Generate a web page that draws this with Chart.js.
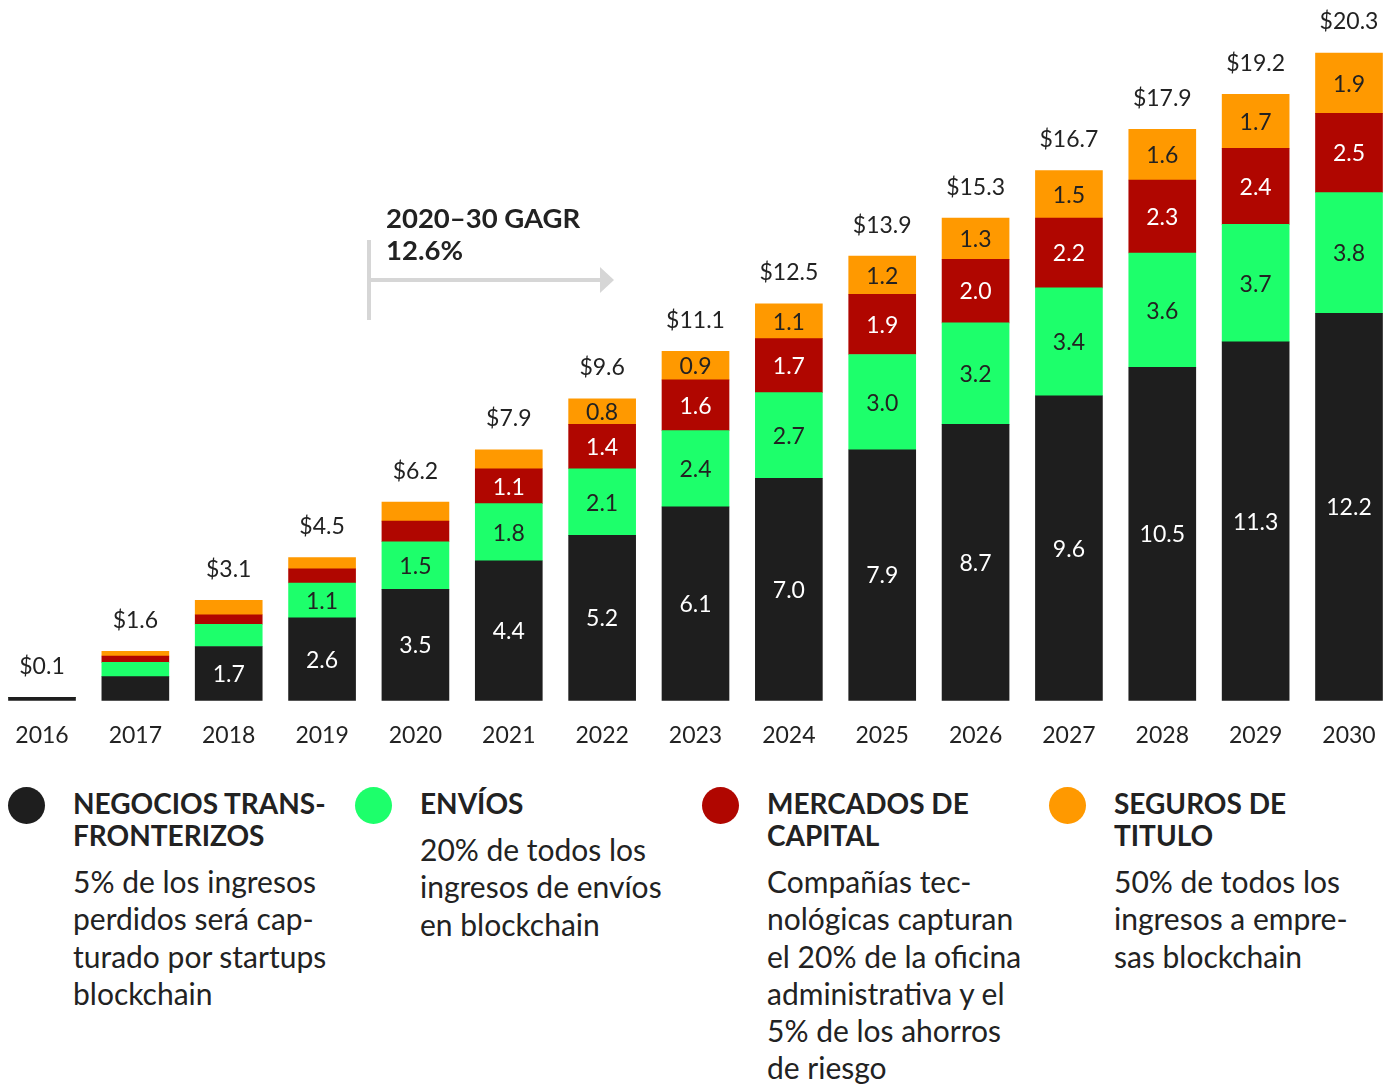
<!DOCTYPE html>
<html lang="es">
<head>
    <meta charset="UTF-8">
    <title>Blockchain ingresos 2016-2030</title>
    <script src="https://cdn.jsdelivr.net/npm/chart.js"></script>
    <style>
        body { margin: 0; background: #fff; font-family: Lato, sans-serif; color: #222; overflow: hidden; }
        #wrap { position: relative; width: 1388px; height: 1086px; }
        #chartBox { position: absolute; left: 0; top: 0; width: 1388px; height: 770px; }
        .legend-item { position: absolute; top: 787px; width: 300px; }
        .legend-item .dot { position: absolute; left: -65px; top: 0px; width: 37px; height: 37px; border-radius: 50%; }
        .legend-item h3 { margin: 0; font-size: 28px; line-height: 32px; font-weight: 700; text-transform: uppercase; }
        .legend-item p { margin: 12px 0 0; font-size: 30px; line-height: 37.3px; }
    </style>
</head>
<body>
<div id="wrap">
    <div id="chartBox"><canvas id="chart"></canvas></div>

    <div class="legend-item" style="left:73px">
        <span class="dot" style="background:#1e1e1e"></span>
        <h3>Negocios trans-<br>fronterizos</h3>
        <p>5% de los ingresos<br>perdidos será cap-<br>turado por startups<br>blockchain</p>
    </div>
    <div class="legend-item" style="left:420px">
        <span class="dot" style="background:#1dff6b"></span>
        <h3>Envíos</h3>
        <p>20% de todos los<br>ingresos de envíos<br>en blockchain</p>
    </div>
    <div class="legend-item" style="left:767px">
        <span class="dot" style="background:#b00600"></span>
        <h3>Mercados de<br>capital</h3>
        <p>Compañías tec-<br>nológicas capturan<br>el 20% de la oficina<br>administrativa y el<br>5% de los ahorros<br>de riesgo</p>
    </div>
    <div class="legend-item" style="left:1114px">
        <span class="dot" style="background:#ff9900"></span>
        <h3>Seguros de<br>titulo</h3>
        <p>50% de todos los<br>ingresos a empre-<br>sas blockchain</p>
    </div>
</div>

<script>
// data (billions USD)
const years = ['2016', '2017', '2018', '2019', '2020', '2021', '2022', '2023', '2024', '2025', '2026', '2027', '2028', '2029', '2030'];
const crossBorder = [0.1, 0.75, 1.7, 2.6, 3.5, 4.4, 5.2, 6.1, 7.0, 7.9, 8.7, 9.6, 10.5, 11.3, 12.2];
const remittances = [0, 0.45, 0.7, 1.1, 1.5, 1.8, 2.1, 2.4, 2.7, 3.0, 3.2, 3.4, 3.6, 3.7, 3.8];
const capitalMarkets = [0, 0.2, 0.3, 0.45, 0.65, 1.1, 1.4, 1.6, 1.7, 1.9, 2.0, 2.2, 2.3, 2.4, 2.5];
const titleInsurance = [0, 0.15, 0.45, 0.35, 0.6, 0.6, 0.8, 0.9, 1.1, 1.2, 1.3, 1.5, 1.6, 1.7, 1.9];
const totals = ['$0.1', '$1.6', '$3.1', '$4.5', '$6.2', '$7.9', '$9.6', '$11.1', '$12.5', '$13.9', '$15.3', '$16.7', '$17.9', '$19.2', '$20.3'];

const FONT = 'Lato, sans-serif';
const labelThreshold = 0.8;

// segment values + totals drawn on top of the bars
const barLabels = {
    id: 'barLabels',
    afterDatasetsDraw(chart) {
        const ctx = chart.ctx;
        ctx.save();
        ctx.textAlign = 'center';
        ctx.textBaseline = 'middle';
        ctx.font = '23px ' + FONT;
        chart.data.datasets.forEach((ds, i) => {
            const meta = chart.getDatasetMeta(i);
            meta.data.forEach((bar, j) => {
                const v = ds.data[j];
                if (v < labelThreshold) return;
                ctx.fillStyle = ds.labelColor;
                ctx.fillText(v.toFixed(1), bar.x, (bar.y + bar.base) / 2 + 1);
            });
        });
        // totals
        const last = chart.getDatasetMeta(chart.data.datasets.length - 1);
        let tops = chart.getDatasetMeta(0).data.map(b => b.y);
        chart.data.datasets.forEach((ds, i) => {
            chart.getDatasetMeta(i).data.forEach((b, j) => { if (ds.data[j] > 0) tops[j] = Math.min(tops[j], b.y); });
        });
        ctx.fillStyle = '#222';
        last.data.forEach((bar, j) => {
            ctx.fillText(totals[j], bar.x, tops[j] - 31);
        });

        // GAGR annotation
        ctx.strokeStyle = '#d6d6d6';
        ctx.fillStyle = '#d6d6d6';
        ctx.lineWidth = 4;
        ctx.beginPath();
        ctx.moveTo(369, 240); ctx.lineTo(369, 320);
        ctx.moveTo(369, 280); ctx.lineTo(602, 280);
        ctx.stroke();
        ctx.beginPath();
        ctx.moveTo(600, 267); ctx.lineTo(614, 280); ctx.lineTo(600, 293);
        ctx.closePath(); ctx.fill();
        ctx.fillStyle = '#222';
        ctx.textAlign = 'left';
        ctx.font = 'bold 27.5px ' + FONT;
        ctx.fillText('2020–30 GAGR', 386, 219);
        ctx.fillText('12.6%', 386, 251);
        ctx.restore();
    }
};

const ctx = document.getElementById('chart').getContext('2d');
new Chart(ctx, {
    type: 'bar',
    data: {
        labels: years,
        datasets: [
            { label: 'Negocios transfronterizos', data: crossBorder, backgroundColor: '#1e1e1e', labelColor: '#ffffff' },
            { label: 'Envíos', data: remittances, backgroundColor: '#1dff6b', labelColor: '#222222' },
            { label: 'Mercados de capital', data: capitalMarkets, backgroundColor: '#b00600', labelColor: '#ffffff' },
            { label: 'Seguros de titulo', data: titleInsurance, backgroundColor: '#ff9900', labelColor: '#222222' }
        ]
    },
    options: {
        responsive: true,
        maintainAspectRatio: false,
        animation: false,
        layout: { padding: { left: 42, right: 39, top: 15, bottom: 0 } },
        datasets: { bar: { barThickness: 67, borderWidth: 0, clip: false } },
        plugins: { legend: { display: false }, tooltip: { enabled: false } },
        scales: {
            x: {
                stacked: true,
                offset: false,
                grid: { display: false, drawTicks: false },
                border: { display: false },
                ticks: { color: '#222', font: { family: FONT, size: 23 }, padding: 21 },
                afterFit(scale) {
                    // tick padding should only push labels down, not squeeze the sides
                    scale.paddingLeft = 0;
                    scale.paddingRight = 0;
                }
            },
            y: {
                stacked: true,
                display: false,
                min: 0,
                max: 21.6
            }
        }
    },
    plugins: [barLabels]
});
</script>
</body>
</html>
